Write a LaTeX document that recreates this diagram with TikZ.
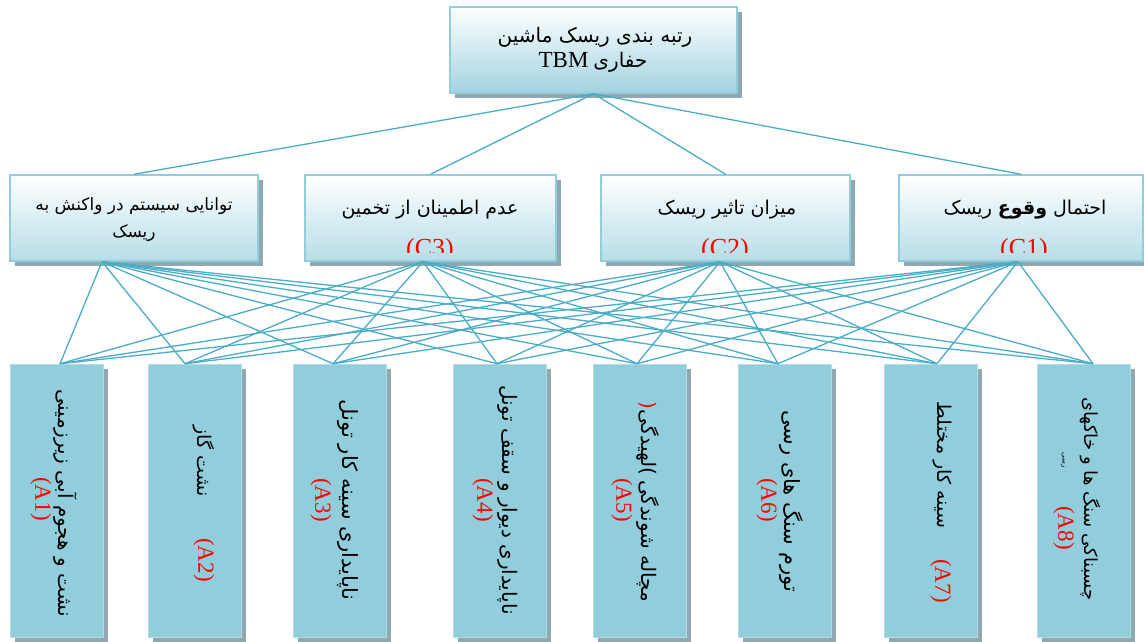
\documentclass[tikz,border=0pt]{standalone}
\usepackage{fontspec}
\setmainfont{Liberation Serif}
\newfontfamily\fa[Script=Arabic]{DejaVu Sans}
\TeXXeTstate=1
\usetikzlibrary{shadows,calc}
\definecolor{lnc}{HTML}{4BACC6}
\definecolor{afill}{HTML}{92CDDC}
\definecolor{bord}{HTML}{92CDDC}
\definecolor{shd}{HTML}{8FA8B2}
\definecolor{cbot}{HTML}{B6DDE8}
\definecolor{tbot}{HTML}{A2D3E0}
\newcommand\fat[1]{{\fa\beginR #1\endR}}
\tikzset{
  conn/.style={draw=lnc, line width=1.3pt},
  shadowed/.style={drop shadow={shadow xshift=4.5pt, shadow yshift=-4.5pt, fill=shd, opacity=1}},
  topbox/.style={shadowed, draw=bord, line width=1.5pt, top color=white, bottom color=tbot, minimum width=287pt, minimum height=86pt, inner sep=0pt},
  cbox/.style={shadowed, draw=bord, line width=1.5pt, top color=white, bottom color=cbot, minimum height=86pt, inner sep=0pt},
  abox/.style={shadowed, fill=afill, draw=afill!70!white, line width=0.6pt, minimum width=93pt, minimum height=273pt, inner sep=0pt},
  ctext/.style={inner sep=0pt, font=\fontsize{19}{22}\selectfont},
  clabel/.style={inner sep=0pt, anchor=base, text=red, font=\fontsize{26}{28}\selectfont},
  rot/.style={rotate=-90, inner sep=0pt, font=\fontsize{20}{22}\selectfont},
  alabel/.style={rotate=-90, inner sep=0pt, text=red, font=\fontsize{23}{25}\selectfont},
}
\begin{document}
\begin{tikzpicture}[x=1pt,y=-1pt]
\useasboundingbox (0,0) rectangle (1144,641);
% boxes
\node[topbox] (top) at (593.5,50) {};
\node[cbox, minimum width=248pt] (C4) at (134,218) {};
\node[cbox, minimum width=251pt] (C3) at (430.5,218) {};
\node[cbox, minimum width=249pt] (C2) at (725.5,218) {};
\node[cbox, minimum width=244pt] (C1) at (1021,218) {};
\foreach \n/\x in {1/56.5,2/194.5,3/339.5,4/499.5,5/639.5,6/784.5,7/930.5,8/1083.5}
  \node[abox] (A\n) at (\x,500.5) {};
% attachment points
\coordinate (c4b) at ($(C4.south)+(-32,0)$);
\coordinate (c3b) at ($(C3.south)+(-7.5,0)$);
\coordinate (c2b) at ($(C2.south)+(-5.5,0)$);
\coordinate (c1b) at ($(C1.south)+(-3,0)$);
\coordinate (a1t) at ($(A1.north)+(3.5,0)$);
\coordinate (a2t) at ($(A2.north)+(-9.5,0)$);
\coordinate (a3t) at ($(A3.north)+(-6.5,0)$);
\coordinate (a4t) at ($(A4.north)+(-2.5,0)$);
\coordinate (a5t) at ($(A5.north)+(-2.5,0)$);
\coordinate (a6t) at ($(A6.north)+(-6.5,0)$);
\coordinate (a7t) at ($(A7.north)+(6.5,0)$);
\coordinate (a8t) at ($(A8.north)+(9.5,0)$);
% connectors
\foreach \c in {C4,C3,C2,C1}
  \draw[conn] (top.south) -- (\c.north);
\foreach \c in {c4b,c3b,c2b,c1b}
  \foreach \a in {a1t,a2t,a3t,a4t,a5t,a6t,a7t,a8t}
    \draw[conn] (\c) -- (\a);
% top text
\node[ctext, font=\fontsize{20}{22}\selectfont] (topl1) at (595,37) {\fat{رتبه بندی ریسک ماشین}};
\node[ctext, font=\fontsize{20}{22}\selectfont] (topl2) at (593,62) {{\fontsize{23}{24}\selectfont TBM} \fat{حفاری}};
% criteria texts
\node[ctext, font=\fontsize{17}{20}\selectfont] (C4t1) at (134,206) {\fat{توانایی سیستم در واکنش به}};
\node[ctext, font=\fontsize{17}{20}\selectfont] (C4t2) at (134,233) {\fat{ریسک}};
\node[ctext] (C3t) at (430,210) {\fat{عدم اطمینان از تخمین}};
\node[ctext] (C2t) at (727,210) {\fat{میزان تاثیر ریسک}};
\node[ctext] (C1t) at (1025,210) {\fat{احتمال {\bfseries وقوع} ریسک}};
\begin{scope}
  \clip ($(C3.south west)+(0,-9)$) rectangle (C3.north east);
  \node[clabel] (C3l) at (430,256) {(C3)};
\end{scope}
\begin{scope}
  \clip ($(C2.south west)+(0,-9)$) rectangle (C2.north east);
  \node[clabel] (C2l) at (725,256) {(C2)};
\end{scope}
\begin{scope}
  \clip ($(C1.south west)+(0,-9)$) rectangle (C1.north east);
  \node[clabel] (C1l) at (1024,256) {(C1)};
\end{scope}
% alternative texts
\node[rot] (A1t) at (65,503) {\fat{نشت و هجوم آبی زیرزمینی}};
\node[alabel] (A1l) at (41,499) {(A1)};
\node[rot, font=\fontsize{19}{21}\selectfont] (A2t) at (204,461) {\fat{نشت گاز}};
\node[alabel] (A2l) at (204,560) {(A2)};
\node[rot, font=\fontsize{21}{23}\selectfont] (A3t) at (348,500) {\fat{ناپایداری سینه کار تونل}};
\node[alabel] (A3l) at (321,500) {(A3)};
\node[rot] (A4t) at (508,500) {\fat{ناپایداری دیوار و سقف تونل}};
\node[alabel] (A4l) at (483,500) {(A4)};
\node[rot] (A5t) at (648,502) {{\fa\textcolor{red}{(}}\fat{لهیدگی}{\fa)}\ \fat{مچاله شوندگی}};
\node[alabel] (A5l) at (622,500) {(A5)};
\node[rot, font=\fontsize{21}{23}\selectfont] (A6t) at (791,501) {\fat{تورم سنگ های رسی}};
\node[alabel] (A6l) at (767,500) {(A6)};
\node[rot, font=\fontsize{19}{21}\selectfont] (A7t) at (942,465) {\fat{سینه کار مختلط}};
\node[alabel] (A7l) at (941,581) {(A7)};
\node[rot, font=\fontsize{18}{20}\selectfont] (A8t) at (1090,499) {\fat{چسبناکی سنگ ها و خاکهای}};
\node[rot, font=\fontsize{7}{8}\selectfont] (A8t2) at (1063,460) {\fat{رسی}};
\node[alabel] (A8l) at (1064,528) {(A8)};
\end{tikzpicture}
\end{document}
